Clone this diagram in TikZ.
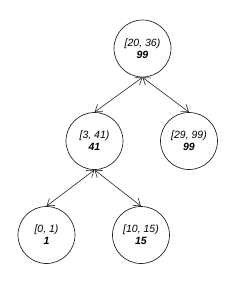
\documentclass[tikz,border=0pt]{standalone}
\usepackage{fontspec}
\setmainfont{Liberation Sans}
\usetikzlibrary{arrows.meta}
\begin{document}
\begin{tikzpicture}[x=1pt,y=-1pt,
  tn/.style={circle, draw=black!85, line width=0.7pt, minimum size=57pt, inner sep=0pt, align=center, font=\fontsize{10.5}{12}\selectfont},
  link/.style={{Straight Barb[length=6.5pt,width=9pt]}-{Straight Barb[length=6.5pt,width=9pt]}, line width=0.6pt, draw=black!85}]
\useasboundingbox (0,0) rectangle (236,282);
\node[tn] (r) at (142.5,48.5) {\textit{[20, 36)}\\\textbf{\textit{99}}};
\node[tn] (a) at (94.5,141) {\textit{[3, 41)}\\\textbf{\textit{41}}};
\node[tn] (b) at (189,141) {\textit{[29, 99)}\\\textbf{\textit{99}}};
\node[tn] (c) at (46.5,235) {\textit{[0, 1)}\\\textbf{\textit{1}}};
\node[tn] (d) at (141,235) {\textit{[10, 15)}\\\textbf{\textit{15}}};
\draw[link] (r.south) -- (a.north);
\draw[link] (r.south) -- (b.north);
\draw[link] (a.south) -- (c.north);
\draw[link] (a.south) -- (d.north);
\end{tikzpicture}
\end{document}
